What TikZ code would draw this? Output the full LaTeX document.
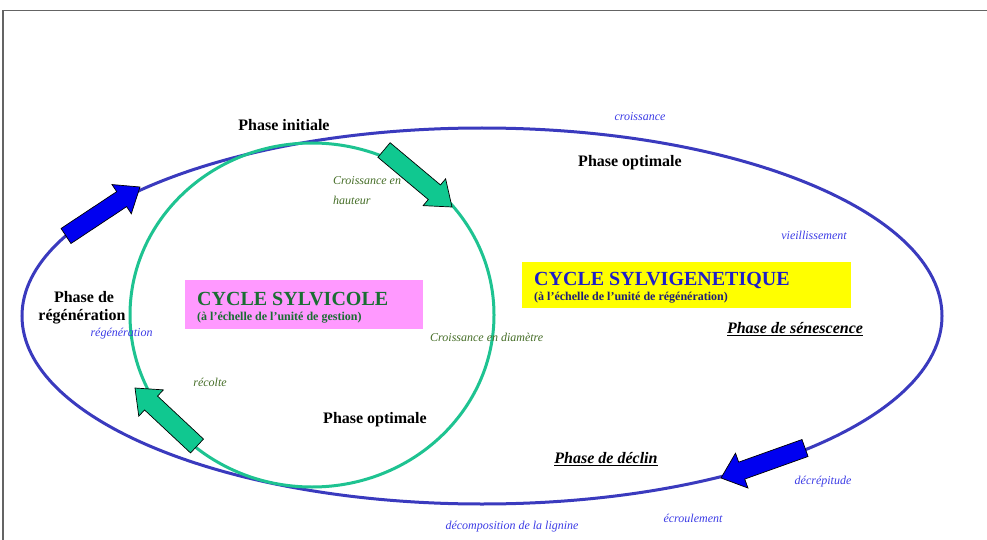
\documentclass[tikz,border=0pt]{standalone}
\usepackage{fontspec}
\setmainfont{Liberation Serif}
\usetikzlibrary{calc}
\definecolor{ellblue}{RGB}{58,58,190}
\definecolor{circgreen}{RGB}{30,195,145}
\definecolor{arrblue}{RGB}{0,0,240}
\definecolor{arrgreen}{RGB}{16,200,144}
\definecolor{lblblue}{RGB}{60,60,230}
\definecolor{lblolive}{RGB}{70,110,40}
\definecolor{pinkbox}{RGB}{255,153,255}
\definecolor{yellowbox}{RGB}{255,255,0}
\definecolor{sylgreen}{RGB}{26,110,50}
\definecolor{sylblue}{RGB}{30,30,200}
\definecolor{sylsub}{RGB}{30,30,120}
\definecolor{framegray}{RGB}{100,100,100}
\newcommand{\fatarrow}[8]{% name, tail, head, halfshaft, halfhead, headlen, color
  \coordinate (#1t) at (#2);
  \coordinate (#1h) at (#3);
  \coordinate (#1b) at ($(#1h)!#6!(#1t)$);
  \draw[fill=#7, draw=black, line width=0.7pt, line join=miter]
    ($(#1t)!#4!90:(#1h)$) -- ($(#1b)!#4!-90:(#1t)$) -- ($(#1b)!#5!-90:(#1t)$) --
    (#1h) -- ($(#1b)!#5!90:(#1t)$) -- ($(#1b)!#4!90:(#1t)$) -- ($(#1t)!#4!-90:(#1h)$) -- cycle;
}
\begin{document}
\begin{tikzpicture}[x=1pt,y=-1pt,
  bold/.style={font=\fontsize{16}{18}\selectfont\bfseries, text=black, inner sep=0},
  boldit/.style={font=\fontsize{16}{18}\selectfont\bfseries\itshape, text=black, inner sep=0},
  bluelbl/.style={font=\fontsize{12}{13}\selectfont\itshape, text=lblblue, inner sep=0},
  olivelbl/.style={font=\fontsize{12}{13}\selectfont\itshape, text=lblolive, inner sep=0},
  ell/.style={draw=ellblue, line width=3pt},
  circ/.style={draw=circgreen, line width=3pt},
  boxnode/.style={anchor=north west, inner sep=0, draw=none},
]
\useasboundingbox (0,0) rectangle (987,540);
\fill[white] (0,0) rectangle (987,540);
% frame
\coordinate (f1) at (3,540);
\coordinate (f2) at (3,10.5);
\coordinate (f3) at (987,10.5);
\draw[framegray, line width=1.5pt] (f1) -- (f2) -- (f3);

% main cycles
\draw[ell] (482,316) ellipse [x radius=460pt, y radius=188pt];
\draw[circ] (312,315) ellipse [x radius=182pt, y radius=172pt];

% boxes
\node[boxnode, fill=pinkbox, minimum width=238pt, minimum height=49pt] (sylbox) at (185,280) {};
\node[boxnode, fill=yellowbox, minimum width=329pt, minimum height=46pt] (genbox) at (522,262) {};

\node[anchor=west, inner sep=0, font=\fontsize{20}{22}\selectfont\bfseries, text=sylgreen] (syltitle) at (197,299.5) {CYCLE SYLVICOLE};
\node[anchor=west, inner sep=0, font=\fontsize{12}{13}\selectfont\bfseries, text=sylgreen] (sylsub) at (197,317.5) {(à l’échelle de l’unité de gestion)};
\node[anchor=west, inner sep=0, font=\fontsize{20}{22}\selectfont\bfseries, text=sylblue] (gentitle) at (534,280.5) {CYCLE SYLVIGENETIQUE};
\node[anchor=west, inner sep=0, font=\fontsize{12}{13}\selectfont\bfseries, text=sylsub] (gensub) at (534,297.5) {(à l’échelle de l’unité de régénération)};

% phase labels
\node[bold] (pinit) at (284,125) {Phase initiale};
\node[bold] (popt1) at (630,163) {Phase optimale};
\node[bold] (preg1) at (84,297) {Phase de};
\node[bold] (preg2) at (82,317) {régénération};
\node[bold] (popt2) at (375,420) {Phase optimale};
\node[boldit] (psen) at (795,329) {\underline{Phase de sénescence}};
\node[boldit] (pdec) at (606,459) {\underline{Phase de déclin}};

% small labels
\node[bluelbl] (lcrois) at (640,117) {croissance};
\node[bluelbl] (lvieil) at (814,235) {vieillissement};
\node[bluelbl] (lregen) at (121.5,334) {régénération};
\node[bluelbl] (ldecr) at (823,482) {décrépitude};
\node[bluelbl] (lecro) at (693,518) {écroulement};
\node[bluelbl] (ldecomp) at (512,527) {décomposition de la lignine};
\node[olivelbl, anchor=west] (lhaut1) at (333,181) {Croissance en};
\node[olivelbl, anchor=west] (lhaut2) at (333,200) {hauteur};
\node[olivelbl, anchor=west] (ldiam) at (430,337) {Croissance en diamètre};
\node[olivelbl] (lrec) at (210,382) {récolte};

% fat arrows
\fatarrow{aa}{66,236}{140,187}{9pt}{17.5pt}{22pt}{arrblue}{}
\fatarrow{ab}{384,150}{452,207}{9.5pt}{17.5pt}{23pt}{arrgreen}{}
\fatarrow{ac}{197,446}{135,388}{9.5pt}{18pt}{22pt}{arrgreen}{}
\fatarrow{ad}{805,448}{721,478}{9pt}{18.5pt}{22pt}{arrblue}{}
\end{tikzpicture}
\end{document}
